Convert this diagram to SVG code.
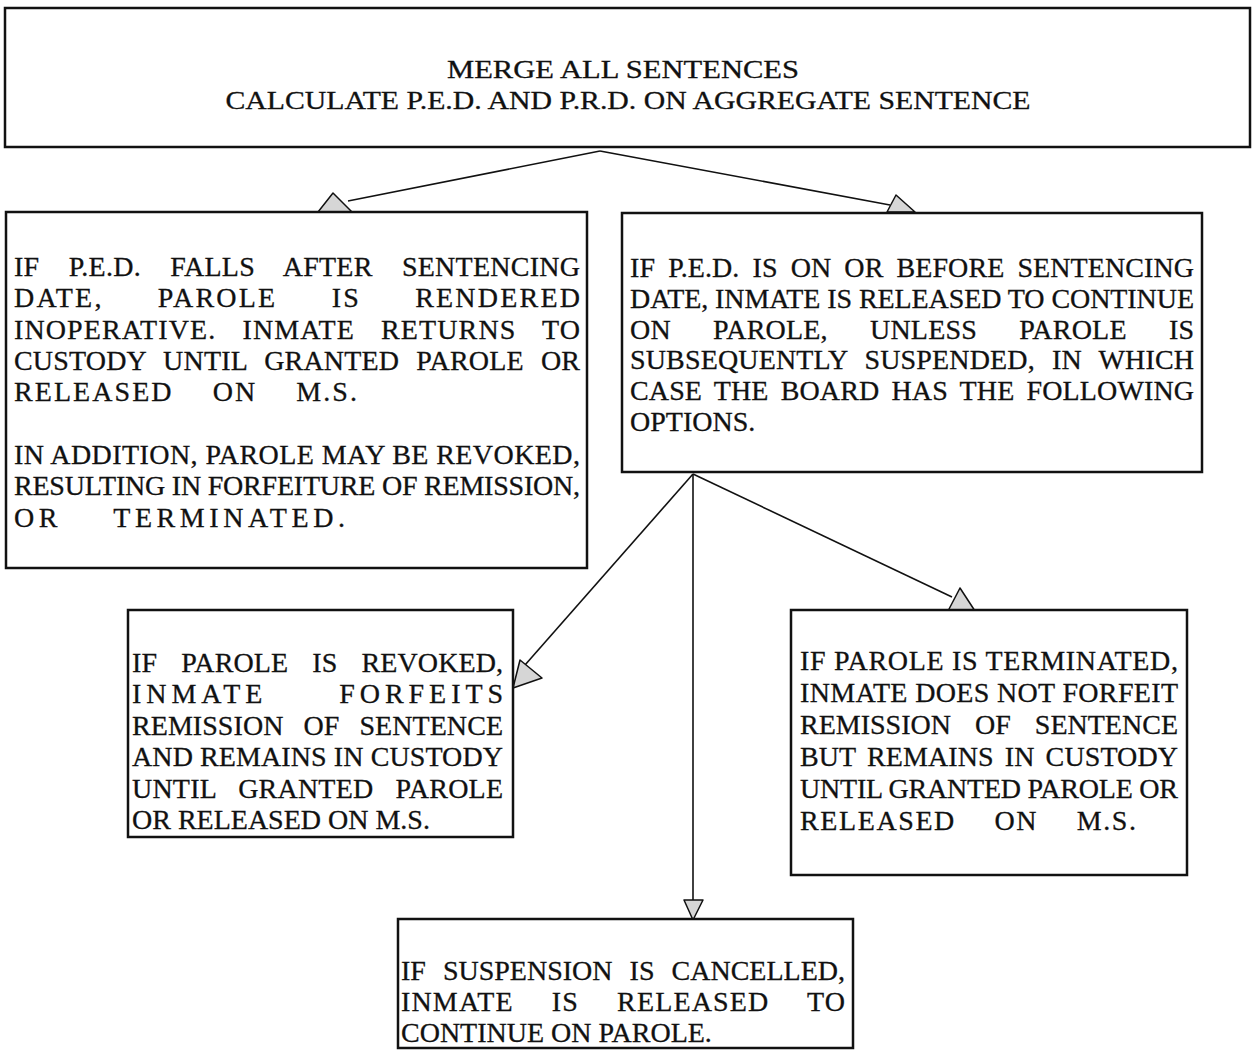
<svg xmlns="http://www.w3.org/2000/svg" width="1252" height="1050" viewBox="0 0 1252 1050">
<style>
.box{fill:#fff;stroke:#111;stroke-width:2.5}
.t{font-family:"Liberation Serif","Times New Roman",serif;font-size:28px;fill:#111;stroke:#111;stroke-width:0.3}
.title{font-family:"Liberation Serif","Times New Roman",serif;font-size:26px;fill:#111;stroke:#111;stroke-width:0.3}
.con{stroke:#111;stroke-width:1.6;fill:none}
.ah{fill:#d6d6d6;stroke:#111;stroke-width:1.5;stroke-linejoin:round}
</style>
<rect width="1252" height="1050" fill="#fff"/>
<g id="connectors">
<line class="con" x1="600" y1="151" x2="348" y2="201"/>
<polygon class="ah" points="318,212 352,212 333,193"/>
<line class="con" x1="600" y1="151" x2="890" y2="205"/>
<polygon class="ah" points="887,212 915,212 896,195"/>
<line class="con" x1="693" y1="474" x2="525" y2="665"/>
<polygon class="ah" points="520,660 542,678 513,688"/>
<line class="con" x1="693" y1="474" x2="693" y2="902"/>
<polygon class="ah" points="684,900 703,900 693,920"/>
<line class="con" x1="693" y1="474" x2="952" y2="597"/>
<polygon class="ah" points="948,611 975,611 960,588"/>
</g>
<g id="node-merge">
<rect class="box" x="5" y="8" width="1245" height="139"/>
<text class="title" x="623" y="78" text-anchor="middle" textLength="352" lengthAdjust="spacingAndGlyphs">MERGE ALL SENTENCES</text>
<text class="title" x="628" y="109" text-anchor="middle" textLength="805" lengthAdjust="spacingAndGlyphs">CALCULATE P.E.D. AND P.R.D. ON AGGREGATE SENTENCE</text>
</g>
<g id="node-after">
<rect class="box" x="6" y="212" width="581" height="356"/>
<text class="t" x="14" y="276" word-spacing="22" textLength="566" lengthAdjust="spacing">IF P.E.D. FALLS AFTER SENTENCING</text>
<text class="t" x="14" y="307" word-spacing="45" textLength="566" lengthAdjust="spacing">DATE, PAROLE IS RENDERED</text>
<text class="t" x="14" y="339" word-spacing="18" textLength="566" lengthAdjust="spacing">INOPERATIVE. INMATE RETURNS TO</text>
<text class="t" x="14" y="370" word-spacing="10" textLength="566" lengthAdjust="spacing">CUSTODY UNTIL GRANTED PAROLE OR</text>
<text class="t" x="14" y="401" word-spacing="30" textLength="343" lengthAdjust="spacing">RELEASED ON M.S.</text>
<text class="t" x="14" y="464" textLength="566" lengthAdjust="spacing">IN ADDITION, PAROLE MAY BE REVOKED,</text>
<text class="t" x="14" y="495" textLength="566" lengthAdjust="spacing">RESULTING IN FORFEITURE OF REMISSION,</text>
<text class="t" x="14" y="527" word-spacing="40" textLength="331" lengthAdjust="spacing">OR TERMINATED.</text>
</g>
<g id="node-before">
<rect class="box" x="622" y="213" width="580" height="259"/>
<text class="t" x="630" y="277" word-spacing="6" textLength="564" lengthAdjust="spacing">IF P.E.D. IS ON OR BEFORE SENTENCING</text>
<text class="t" x="630" y="308" textLength="564" lengthAdjust="spacing">DATE, INMATE IS RELEASED TO CONTINUE</text>
<text class="t" x="630" y="339" word-spacing="35" textLength="564" lengthAdjust="spacing">ON PAROLE, UNLESS PAROLE IS</text>
<text class="t" x="630" y="369" word-spacing="10" textLength="564" lengthAdjust="spacing">SUBSEQUENTLY SUSPENDED, IN WHICH</text>
<text class="t" x="630" y="400" word-spacing="5" textLength="564" lengthAdjust="spacing">CASE THE BOARD HAS THE FOLLOWING</text>
<text class="t" x="630" y="431">OPTIONS.</text>
</g>
<g id="node-revoked">
<rect class="box" x="128" y="610" width="385" height="227"/>
<text class="t" x="132" y="672" word-spacing="17" textLength="371" lengthAdjust="spacing">IF PAROLE IS REVOKED,</text>
<text class="t" x="132" y="703" word-spacing="60" textLength="371" lengthAdjust="spacing">INMATE FORFEITS</text>
<text class="t" x="132" y="735" word-spacing="13" textLength="371" lengthAdjust="spacing">REMISSION OF SENTENCE</text>
<text class="t" x="132" y="766" textLength="371" lengthAdjust="spacing">AND REMAINS IN CUSTODY</text>
<text class="t" x="132" y="798" word-spacing="15" textLength="371" lengthAdjust="spacing">UNTIL GRANTED PAROLE</text>
<text class="t" x="132" y="829">OR RELEASED ON M.S.</text>
</g>
<g id="node-terminated">
<rect class="box" x="791" y="610" width="396" height="265"/>
<text class="t" x="800" y="670" textLength="378" lengthAdjust="spacing">IF PAROLE IS TERMINATED,</text>
<text class="t" x="800" y="702" textLength="378" lengthAdjust="spacing">INMATE DOES NOT FORFEIT</text>
<text class="t" x="800" y="734" word-spacing="17" textLength="378" lengthAdjust="spacing">REMISSION OF SENTENCE</text>
<text class="t" x="800" y="766" word-spacing="4" textLength="378" lengthAdjust="spacing">BUT REMAINS IN CUSTODY</text>
<text class="t" x="800" y="798" textLength="378" lengthAdjust="spacing">UNTIL GRANTED PAROLE OR</text>
<text class="t" x="800" y="830" word-spacing="30" textLength="336" lengthAdjust="spacing">RELEASED ON M.S.</text>
</g>
<g id="node-cancelled">
<rect class="box" x="398" y="919" width="455" height="129"/>
<text class="t" x="401" y="980" word-spacing="10" textLength="444" lengthAdjust="spacing">IF SUSPENSION IS CANCELLED,</text>
<text class="t" x="401" y="1011" word-spacing="30" textLength="444" lengthAdjust="spacing">INMATE IS RELEASED TO</text>
<text class="t" x="401" y="1042">CONTINUE ON PAROLE.</text>
</g>
</svg>
